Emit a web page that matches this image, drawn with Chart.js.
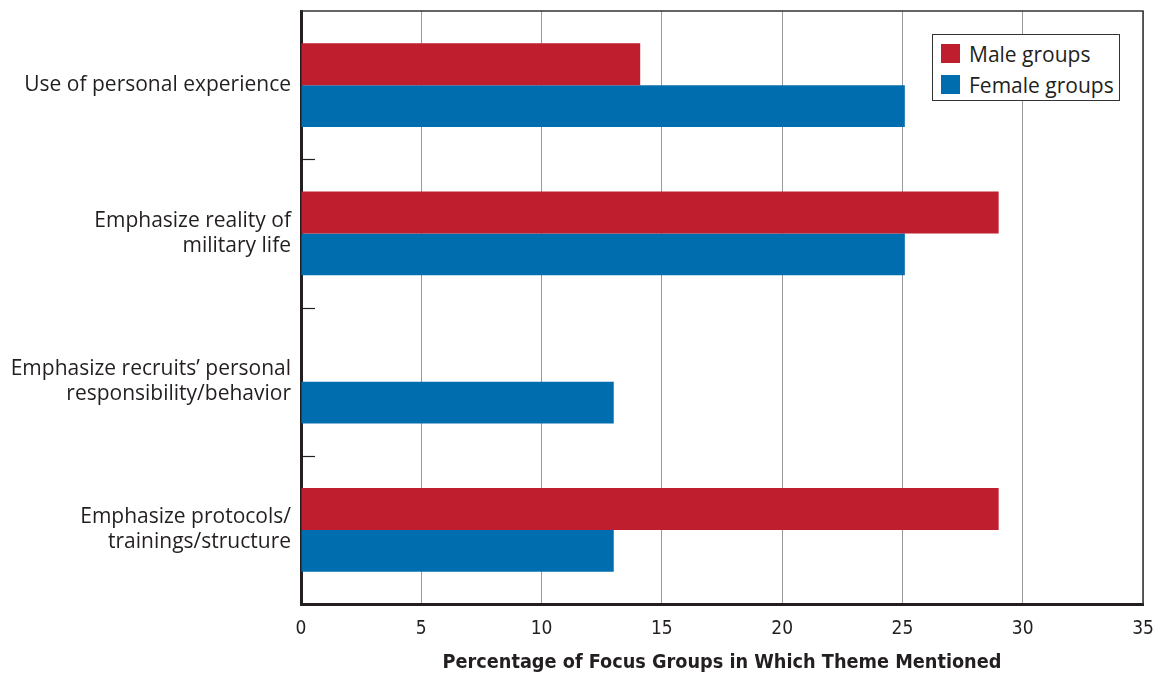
<!DOCTYPE html>
<html>
<head>
<meta charset="utf-8">
<script src="https://cdn.jsdelivr.net/npm/chart.js@4"></script>
<style>
  html, body { margin: 0; padding: 0; background: #fff; }
  #wrap { position: relative; width: 1159px; height: 679px; }
  #leyenda {
    position: absolute; left: 932px; top: 34px; width: 186px; height: 65px;
    border: 1.5px solid #333; background: #fff;
    font-family: "Open Sans", sans-serif; font-size: 21px; color: #231f20;
  }
  #leyenda .item { position: absolute; left: 8px; height: 20px; line-height: 20px; white-space: nowrap; }
  #leyenda .caja { display: inline-block; width: 19px; height: 19px; vertical-align: top; margin-right: 9px; }
</style>
</head>
<body>
<div id="wrap">
  <canvas id="grafico" width="1159" height="679"></canvas>
  <div id="leyenda"></div>
</div>
<script>
// Datos
const temas = [
  ["Use of personal experience"],
  ["Emphasize reality of", "military life"],
  ["Emphasize recruits’ personal", "responsibility/behavior"],
  ["Emphasize protocols/", "trainings/structure"]
];
const gruposHombres = [14.1, 29, 0, 29];
const gruposMujeres = [25.1, 25.1, 13, 13];
const nombresSeries = ["Male groups", "Female groups"];
const tituloEjeX = "Percentage of Focus Groups in Which Theme Mentioned";

const rojo = "#be1e2d";
const azul = "#006eae";

// Marco superior/derecho y marcas cortas entre categorías
const marcoPlugin = {
  id: "marco",
  afterDraw(chart) {
    const { ctx, chartArea: a, scales } = chart;
    ctx.save();
    ctx.strokeStyle = "#333";
    ctx.lineWidth = 1.5;
    ctx.beginPath();
    ctx.moveTo(a.left, a.top);
    ctx.lineTo(a.right, a.top);
    ctx.lineTo(a.right, a.bottom);
    ctx.stroke();

    ctx.strokeStyle = "#231f20";
    ctx.lineWidth = 1.2;
    for (let i = 0; i < temas.length - 1; i++) {
      const y = Math.round(scales.y.getPixelForValue(i + 0.5)) + 0.5;
      ctx.beginPath();
      ctx.moveTo(a.left, y);
      ctx.lineTo(a.left + 14, y);
      ctx.stroke();
    }
    ctx.restore();
  }
};

const ctx = document.getElementById("grafico").getContext("2d");
const grafico = new Chart(ctx, {
  type: "bar",
  data: {
    labels: temas,
    datasets: [
      { label: nombresSeries[0], data: gruposHombres, backgroundColor: rojo },
      { label: nombresSeries[1], data: gruposMujeres, backgroundColor: azul }
    ]
  },
  options: {
    indexAxis: "y",
    responsive: false,
    animation: false,
    layout: { padding: { top: 11, right: 16, left: 0, bottom: 0 } },
    datasets: { bar: { categoryPercentage: 0.565, barPercentage: 1 } },
    plugins: {
      legend: { display: false },
      tooltip: { enabled: false }
    },
    scales: {
      x: {
        min: 0,
        max: 35,
        ticks: {
          stepSize: 5,
          padding: 14,
          color: "#231f20",
          font: { family: "'DejaVu Sans Condensed', sans-serif", size: 19 }
        },
        grid: { color: "#999", lineWidth: 1, drawTicks: false },
        border: { display: true, color: "#231f20", width: 3 },
        title: {
          display: true,
          text: tituloEjeX,
          color: "#231f20",
          padding: { top: 0, bottom: 4 },
          font: { family: "'DejaVu Sans Condensed', sans-serif", size: 19.7, weight: "bold" }
        },
        afterFit(scale) {
          scale.height = 75;
          scale.paddingLeft = 0;
          scale.paddingRight = 0;
        }
      },
      y: {
        ticks: {
          padding: 10,
          color: "#231f20",
          font: { family: "'Open Sans', sans-serif", size: 21, lineHeight: 1.19 }
        },
        grid: { display: false, drawTicks: false },
        border: { display: true, color: "#231f20", width: 3 },
        afterFit(scale) {
          scale.width = 301;
          scale.paddingTop = 0;
          scale.paddingBottom = 0;
        }
      }
    }
  },
  plugins: [marcoPlugin]
});

// Leyenda HTML construida desde los datasets
const leyenda = document.getElementById("leyenda");
grafico.data.datasets.forEach((ds, i) => {
  const item = document.createElement("div");
  item.className = "item";
  item.style.top = (9 + i * 31) + "px";
  item.innerHTML = `<span class="caja" style="background:${ds.backgroundColor}"></span>${ds.label}`;
  leyenda.appendChild(item);
});
</script>
</body>
</html>
